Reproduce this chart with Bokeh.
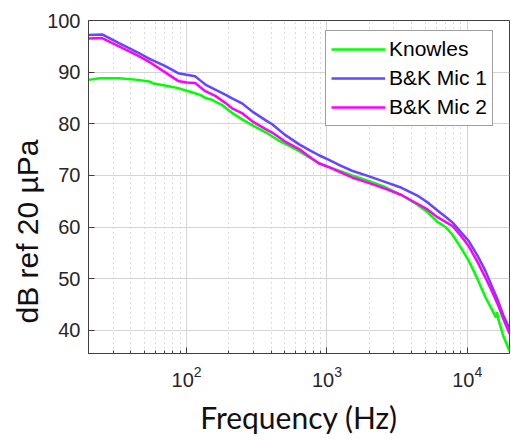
from bokeh.plotting import figure
from bokeh.models import Legend, LegendItem, FixedTicker, Range1d, Title
from bokeh.embed import file_html
from bokeh.resources import INLINE

# ---- data ----
knowles_f = [20, 24, 33, 45, 54, 58, 70, 87, 100, 115, 125, 136, 150, 160, 180, 211, 250, 300, 369, 450,
             540, 634, 750, 878, 1034, 1250, 1509, 2000, 2620, 3400, 4411, 5200, 6134, 7000, 7840, 9000,
             10230, 11800, 13420, 15000, 16000, 16300, 16700, 18000, 20000]
knowles_db = [88.5, 88.8, 88.8, 88.5, 88.2, 87.8, 87.4, 86.9, 86.4, 85.9, 85.6, 85.0, 84.7, 84.3, 83.6, 82.1,
              80.8, 79.6, 78.3, 76.8, 75.7, 74.7, 73.5, 72.4, 71.6, 70.8, 70.0, 68.9, 67.7, 66.2, 64.3, 62.9,
              61.0, 60.0, 58.5, 56.0, 53.5, 50.0, 46.5, 44.0, 42.5, 43.5, 42.0, 39.0, 36.0]

bk_f = [20, 25, 33, 45, 54, 70, 87, 100, 115, 125, 136, 160, 190, 211, 250, 300, 369, 407, 500, 634, 750,
        878, 1034, 1250, 1509, 2000, 2620, 3400, 4411, 5200, 6134, 7000, 7840, 9000, 10230, 11800, 13420,
        15000, 16630, 18000, 20000]
bk1_db = [97.2, 97.3, 95.6, 93.8, 92.6, 91.2, 89.8, 89.5, 89.2, 88.4, 87.6, 86.6, 85.6, 84.9, 83.9, 82.2,
          80.6, 79.9, 77.9, 76.0, 74.9, 73.9, 73.0, 71.9, 70.9, 69.8, 68.7, 67.6, 66.1, 64.8, 63.2, 62.0,
          60.9, 59.0, 57.3, 54.5, 51.6, 48.5, 45.6, 43.0, 40.3]
bk2_db = [96.5, 96.6, 95.0, 93.2, 92.0, 90.0, 88.3, 88.0, 87.9, 87.1, 86.3, 85.4, 84.0, 83.0, 82.0, 80.3,
          78.9, 78.3, 76.6, 75.1, 73.6, 72.3, 71.6, 70.6, 69.6, 68.5, 67.4, 66.2, 64.5, 63.4, 61.9, 61.0,
          60.2, 58.3, 56.3, 53.3, 50.3, 47.5, 44.8, 42.3, 39.3]

series_names = ["Knowles", "B&K Mic 1", "B&K Mic 2"]
series_colors = ["#00ff00", "#6347ff", "#ff00ff"]

x_major = [100, 1000, 10000]
y_major = [40, 50, 60, 70, 80, 90, 100]

# ---- figure ----
p = figure(width=511, height=441, x_axis_type="log",
           x_range=Range1d(20, 20000), y_range=Range1d(35.5, 100),
           output_backend="svg", toolbar_location=None,
           min_border_left=88, min_border_right=2, min_border_top=20, min_border_bottom=86)

p.background_fill_color = "white"
p.border_fill_color = "white"
p.outline_line_color = "#404040"
p.outline_line_width = 1

x_minor = [m * d for d in [10, 100, 1000] for m in range(2, 10) if 20 <= m * d <= 20000]

xax = p.below[0]
yax = p.left[0]
xax.ticker = FixedTicker(ticks=x_major, minor_ticks=x_minor)
yax.ticker = FixedTicker(ticks=y_major)

for ax in [xax, yax]:
    ax.axis_line_color = "#404040"
    ax.major_tick_line_color = "#404040"
    ax.minor_tick_line_color = "#404040"
    ax.major_tick_in = 6
    ax.major_tick_out = 0
    ax.minor_tick_in = 3
    ax.minor_tick_out = 0
    ax.major_label_text_font = "Liberation Sans"
    ax.major_label_text_font_size = "20px"
    ax.major_label_text_color = "#262626"

yax.major_label_standoff = 8
xax.major_label_standoff = 12

# axis titles (placed as side titles so they can be shifted like the reference)
ylab = Title(text="dB ref 20 µPa", align="left", offset=30, standoff=2,
             text_font="Liberation Sans", text_font_size="30px", text_font_style="normal",
             text_color="#111111")
p.add_layout(ylab, "left")
xlab = Title(text="Frequency (Hz)", align="center", offset=-8, standoff=14,
             text_font="Lato", text_font_size="30px", text_font_style="normal",
             text_color="#111111")
p.add_layout(xlab, "below")

p.xgrid.grid_line_color = "#d4d4d4"
p.xgrid.minor_grid_line_color = "#b8b8b8"
p.xgrid.minor_grid_line_dash = "1 4"
p.ygrid.grid_line_color = "#d4d4d4"

r1 = p.line(knowles_f, knowles_db, line_color=series_colors[0], line_width=2.5)
r2 = p.line(bk_f, bk1_db, line_color=series_colors[1], line_width=2.5)
r3 = p.line(bk_f, bk2_db, line_color=series_colors[2], line_width=2.5)

legend = Legend(items=[LegendItem(label=series_names[0], renderers=[r1]),
                       LegendItem(label=series_names[1], renderers=[r2]),
                       LegendItem(label=series_names[2], renderers=[r3])],
                location=(237, 227))
legend.label_text_font = "Liberation Sans"
legend.label_text_font_size = "21px"
legend.label_text_color = "#000000"
legend.label_height = 26
legend.glyph_height = 26
legend.glyph_width = 54
legend.label_standoff = 4
legend.spacing = 3
legend.padding = 5
legend.margin = 0
legend.border_line_color = "#404040"
legend.border_line_width = 1
legend.background_fill_alpha = 1
p.add_layout(legend)

open("out.html", "w").write(file_html(p, INLINE))
